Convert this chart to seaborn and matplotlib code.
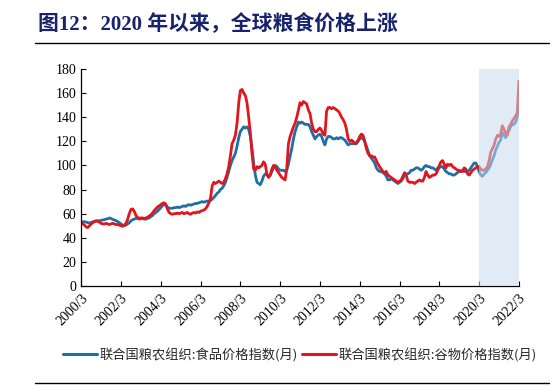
import numpy as np
import pandas as pd
import seaborn as sns
from matplotlib import pyplot as plt
from matplotlib.lines import Line2D

# monthly index values, 2000/3 .. 2022/3 (rows = calendar years)
food = [
    53.5, 53.0, 53.4, 53.0, 52.5, 52.3, 52.8, 53.2, 53.6, 54.0,                  # 2000 (Mar-Dec)
    54.2, 54.0, 54.5, 54.8, 55.0, 55.5, 55.8, 56.4, 56.0, 55.2, 54.8, 54.2,      # 2001
    53.5, 52.5, 51.5, 50.5, 50.0, 50.5, 51.5, 52.5, 54.0, 55.0, 55.5, 56.0,      # 2002
    56.0, 55.5, 55.8, 56.0, 55.5, 55.5, 56.0, 56.5, 57.5, 58.5, 60.0, 61.0,      # 2003
    62.0, 63.5, 65.0, 66.5, 67.5, 67.0, 65.5, 64.5, 64.5, 64.5, 65.0, 65.0,      # 2004
    65.5, 65.0, 65.5, 66.0, 66.5, 66.0, 67.0, 67.5, 67.0, 67.5, 68.0, 68.5,      # 2005
    68.5, 69.0, 69.5, 70.0, 69.5, 70.0, 70.5, 70.0, 71.0, 72.0, 73.5, 75.0,      # 2006
    77.0, 78.0, 80.0, 81.0, 83.0, 86.0, 90.0, 95.0, 100.0, 104.0, 107.0, 110.0,  # 2007
    116.0, 123.0, 128.0, 130.0, 132.0, 131.0, 132.0, 130.0, 124.0, 114.0, 102.0, 92.0,  # 2008
    86.0, 85.0, 84.0, 87.0, 91.0, 93.0, 92.0, 91.0, 92.0, 95.0, 98.0, 100.0,     # 2009
    99.0, 97.0, 96.0, 96.0, 96.0, 95.0, 96.0, 101.0, 108.0, 114.0, 122.0, 128.0, # 2010
    132.0, 136.0, 135.0, 136.0, 135.0, 134.0, 134.0, 134.0, 132.0, 128.0, 125.0, 122.0,  # 2011
    124.0, 125.0, 126.0, 124.0, 120.0, 117.0, 122.0, 124.0, 124.0, 123.0, 122.0, 122.0,  # 2012
    123.0, 122.0, 123.0, 123.0, 122.0, 121.0, 119.0, 117.0, 118.0, 118.0, 118.0, 118.0,  # 2013
    118.0, 120.0, 122.0, 123.0, 122.0, 120.0, 116.0, 112.0, 108.0, 106.0, 104.0, 102.0,  # 2014
    98.0, 96.0, 95.0, 95.0, 94.0, 93.0, 91.0, 88.0, 88.0, 89.0, 88.0, 87.0,      # 2015
    86.0, 85.0, 86.0, 87.0, 89.0, 92.0, 93.0, 93.0, 94.0, 96.0, 96.0, 97.0,      # 2016
    98.0, 98.0, 97.0, 96.0, 97.0, 99.0, 100.0, 99.0, 99.0, 98.0, 98.0, 97.0,     # 2017
    96.0, 98.0, 98.0, 99.0, 99.0, 97.0, 95.0, 94.0, 93.0, 93.0, 92.0, 92.0,      # 2018
    93.0, 94.0, 95.0, 95.0, 96.0, 95.0, 95.0, 95.0, 96.0, 98.0, 100.0, 102.0,    # 2019
    102.0, 99.0, 95.0, 92.0, 91.0, 93.0, 94.0, 96.0, 98.0, 101.0, 105.0, 108.0,  # 2020
    113.0, 116.0, 119.0, 121.0, 127.0, 125.0, 123.0, 127.0, 129.0, 132.0, 134.0, 134.0,  # 2021
    136.0, 140.0, 159.0,                                                         # 2022 (Jan-Mar)
]

cereal = [
    52.5, 51.5, 50.5, 49.0, 48.5, 50.0, 51.5, 52.5, 53.5, 54.0,
    53.5, 53.0, 52.0, 51.5, 51.5, 52.0, 51.5, 51.0, 51.5, 52.0, 51.5, 51.0,
    51.0, 50.5, 50.0, 49.5, 50.5, 52.0, 55.0, 60.0, 63.5, 64.0, 62.0, 58.5,
    57.0, 56.0, 56.5, 56.5, 56.0, 56.5, 57.0, 58.0, 59.0, 60.5, 62.5, 64.0,
    65.5, 66.5, 67.5, 68.5, 69.0, 68.0, 64.0, 61.0, 60.0, 59.5, 60.0, 60.0,
    60.5, 60.0, 60.5, 61.0, 60.0, 60.5, 61.0, 60.0, 59.5, 60.5, 61.0, 60.5,
    61.5, 61.0, 62.0, 62.5, 63.0, 64.0, 66.0, 69.0, 73.0, 83.0, 86.0, 85.0,
    86.0, 87.0, 86.0, 85.0, 86.0, 89.0, 93.0, 99.0, 108.0, 118.0, 121.0, 125.0,
    135.0, 152.0, 162.0, 163.0, 160.0, 158.0, 152.0, 140.0, 127.0, 110.0, 97.0, 96.0,
    99.0, 98.0, 99.0, 100.0, 103.0, 101.0, 93.0, 90.0, 92.0, 97.0, 100.0, 99.0,
    96.0, 94.0, 92.0, 90.0, 89.0, 88.0, 97.0, 118.0, 124.0, 128.0, 132.0, 135.0,
    140.0, 146.0, 152.0, 150.0, 153.0, 152.0, 151.0, 146.0, 143.0, 135.0, 130.0, 128.0,
    128.0, 130.0, 131.0, 129.0, 126.0, 125.0, 145.0, 148.0, 148.0, 147.0, 148.0, 147.0,
    146.0, 145.0, 143.0, 140.0, 138.0, 135.0, 130.0, 122.0, 120.0, 121.0, 120.0, 118.0,
    119.0, 121.0, 124.0, 126.0, 125.0, 120.0, 114.0, 110.0, 108.0, 108.0, 107.0, 107.0,
    104.0, 101.0, 99.0, 97.0, 95.0, 94.0, 95.0, 92.0, 91.0, 90.0, 89.0, 88.0,
    87.0, 86.0, 87.0, 88.0, 91.0, 94.0, 92.0, 87.0, 86.0, 86.0, 86.0, 85.0,
    86.0, 87.0, 88.0, 87.0, 87.0, 90.0, 95.0, 92.0, 90.0, 91.0, 92.0, 92.0,
    93.0, 96.0, 100.0, 103.0, 104.0, 101.0, 98.0, 101.0, 100.0, 101.0, 99.0, 98.0,
    97.0, 96.0, 96.0, 95.0, 95.0, 98.0, 97.0, 93.0, 92.0, 94.0, 96.0, 97.0,
    98.0, 99.0, 99.0, 97.0, 96.0, 96.0, 97.0, 99.0, 104.0, 111.0, 114.0, 117.0,
    122.0, 125.0, 124.0, 126.0, 133.0, 130.0, 127.0, 125.0, 132.0, 134.0, 137.0, 139.0,
    141.0, 144.0, 170.0,
]

food_label = '联合国粮农组织:食品价格指数(月)'
cereal_label = '联合国粮农组织:谷物价格指数(月)'
title = '图12：2020 年以来，全球粮食价格上涨'
tick_years = list(range(2000, 2023, 2))

dates = pd.date_range('2000-03-01', periods=len(food), freq='MS')
df = pd.DataFrame({'date': dates, 'food': food, 'cereal': cereal})

sns.set_style('ticks')
plt.rcParams['font.family'] = ['Liberation Serif', 'Noto Sans CJK SC', 'DejaVu Sans']

blue = '#1f6ea8'
red = '#e3151c'

fig = plt.figure(figsize=(5.52, 3.85), dpi=100)
ax = fig.add_axes([0.147, 0.257, 0.793, 0.564])

sns.lineplot(data=df, x='date', y='food', color=blue, linewidth=2.0, ax=ax)
sns.lineplot(data=df, x='date', y='cereal', color=red, linewidth=2.0, ax=ax)

# shaded period since 2020
ax.axvspan(pd.Timestamp('2020-03-01'), pd.Timestamp('2022-03-01'),
           color='#c8dbee', alpha=0.55, lw=0, zorder=5)

ax.set_xlim(pd.Timestamp('2000-03-01'), pd.Timestamp('2022-03-01'))
ax.set_ylim(0, 180)
ax.set_yticks(range(0, 181, 20))
ticks = [pd.Timestamp(f'{y}-03-01') for y in tick_years]
ax.set_xticks(ticks)
ax.set_xticklabels([f'{y}/3' for y in tick_years], rotation=45, ha='right',
                   va='top', rotation_mode='anchor')
ax.set_xlabel('')
ax.set_ylabel('')
ax.tick_params(axis='both', direction='in', length=3.5, width=0.8,
               labelsize=10, colors='black')
ax.tick_params(axis='x', pad=4)
for s in ['top', 'right']:
    ax.spines[s].set_visible(False)
for s in ['left', 'bottom']:
    ax.spines[s].set_color('black')
    ax.spines[s].set_linewidth(0.9)

handles = [Line2D([], [], color=blue, lw=2.2), Line2D([], [], color=red, lw=2.2)]
fig.legend(handles, [food_label, cereal_label], loc='center', ncol=2,
           bbox_to_anchor=(0.543, 0.078), frameon=False, handlelength=2.6,
           handletextpad=0.2, columnspacing=0.3,
           prop={'family': ['Noto Sans CJK SC'], 'size': 9.5})

fig.text(0.068, 0.935, title, fontsize=15, fontweight='bold', color='#18236b',
         family=['Liberation Serif', 'Noto Sans CJK SC'], va='center')
fig.add_artist(Line2D([0.063, 0.994], [0.888, 0.888], color='black', lw=1.0))
fig.add_artist(Line2D([0.063, 0.994], [0.006, 0.006], color='black', lw=1.0))

fig.savefig('out.png', dpi=100)
